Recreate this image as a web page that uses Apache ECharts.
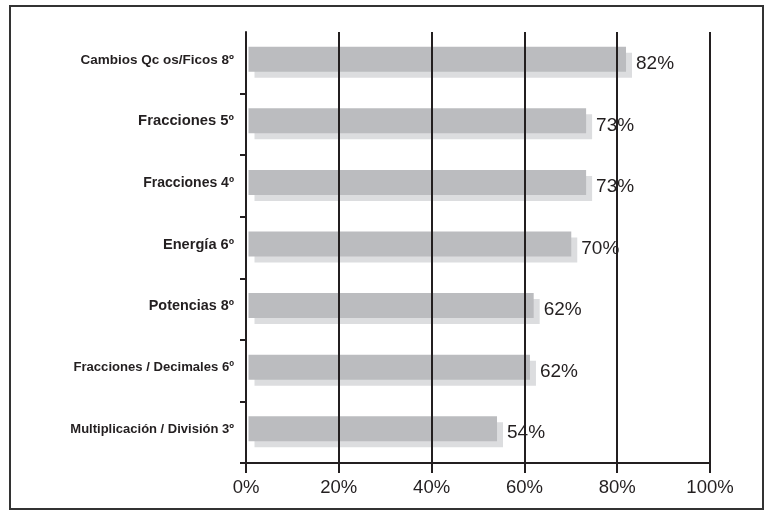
<!DOCTYPE html>
<html>
<head>
<meta charset="utf-8">
<script src="https://cdn.jsdelivr.net/npm/echarts@6/dist/echarts.min.js"></script>
<style>
html,body{margin:0;padding:0;background:#fff;}
#c{width:764px;height:512px;}
</style>
</head>
<body>
<div id="c"></div>
<script>
var categories = [
  'Cambios Qc os/Ficos 8º',
  'Fracciones 5º',
  'Fracciones 4º',
  'Energía 6º',
  'Potencias 8º',
  'Fracciones / Decimales 6º',
  'Multiplicación / División 3º'
];
var values = [81.9, 73.3, 73.3, 70.1, 62.0, 61.2, 54.1];
var valueLabels = ['82%', '73%', '73%', '70%', '62%', '62%', '54%'];
var xTicks = [0, 20, 40, 60, 80, 100];

// per-category label font sizes (style only)
var labelSizes = [13.5, 14.8, 14, 14.6, 14.4, 13.1, 13];

var INK = '#231f20';
var FONT = 'Liberation Sans, Arial, Helvetica, sans-serif';

var chart = echarts.init(document.getElementById('c'), null, {renderer: 'canvas'});

var rich = {};
labelSizes.forEach(function (s, i) {
  rich['s' + i] = {fontSize: s, fontWeight: 'bold', fontFamily: FONT, color: INK};
});

var option = {
  backgroundColor: '#ffffff',
  animation: false,
  graphic: [{
    type: 'rect',
    shape: {x: 10, y: 6, width: 753, height: 503},
    style: {fill: 'none', stroke: '#333333', lineWidth: 2},
    z: 0
  }],
  grid: {left: 246, top: 32, width: 464, height: 431, containLabel: false},
  xAxis: [{
    type: 'value',
    position: 'bottom',
    min: xTicks[0],
    max: xTicks[xTicks.length - 1],
    interval: 20,
    z: 3,
    axisLine: {show: false},
    axisTick: {show: true, length: 10, lineStyle: {color: INK, width: 2}},
    axisLabel: {
      formatter: '{value}%',
      color: INK,
      fontSize: 18.5,
      fontFamily: FONT,
      margin: 15
    },
    splitLine: {show: true, lineStyle: {color: INK, width: 2}}
  }, {
    type: 'value',
    position: 'bottom',
    min: 0,
    max: 102,
    z: 3,
    axisLine: {show: true, lineStyle: {color: INK, width: 2}},
    axisTick: {show: false},
    axisLabel: {show: false},
    splitLine: {show: false}
  }],
  yAxis: {
    type: 'category',
    inverse: true,
    data: categories,
    z: 3,
    axisLine: {show: true, lineStyle: {color: INK, width: 2}},
    axisTick: {
      show: true, length: 6, alignWithLabel: false,
      interval: function (i) { return i !== 0; },
      lineStyle: {color: INK, width: 2}
    },
    axisLabel: {
      color: INK,
      fontSize: 13,
      fontWeight: 'bold',
      fontFamily: FONT,
      margin: 12,
      padding: [0, 0, 6, 0],
      formatter: function (val, idx) {
        return '{s' + idx + '|' + val + '}';
      },
      rich: rich
    },
    splitLine: {show: false}
  },
  series: [{
    type: 'custom',
    xAxisIndex: 0,
    yAxisIndex: 0,
    z: 2,
    clip: false,
    data: values.map(function (v, i) { return [v, i]; }),
    encode: {x: 0, y: 1},
    renderItem: function (params, api) {
      var v = api.value(0);
      var c = api.value(1);
      var idx = params.dataIndex;
      var start = api.coord([0, c]);
      var end = api.coord([v, c]);
      var h = 25;
      var x0 = start[0] + 2.5;
      var yc = start[1] - 3.5;
      var w = end[0] - x0;
      return {
        type: 'group',
        children: [
          {type: 'rect', shape: {x: x0 + 6, y: yc - h / 2 + 6, width: w, height: h},
           style: {fill: '#dcdddf'}},
          {type: 'rect', shape: {x: x0, y: yc - h / 2, width: w, height: h},
           style: {fill: '#bbbcbf'}},
          {type: 'text', style: {
            text: valueLabels[idx], x: end[0] + 10, y: yc + 4.5,
            fill: INK, fontSize: 19, fontFamily: FONT,
            align: 'left', verticalAlign: 'middle'
          }}
        ]
      };
    }
  }]
};

chart.setOption(option);
</script>
</body>
</html>
